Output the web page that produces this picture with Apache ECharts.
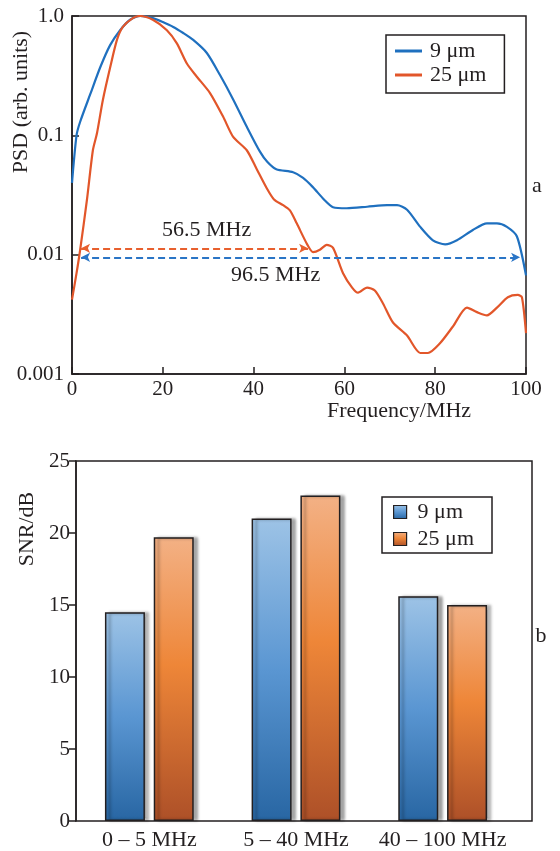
<!DOCTYPE html>
<html><head><meta charset="utf-8">
<script src="https://cdn.jsdelivr.net/npm/echarts@6/dist/echarts.min.js"></script>
<style>html,body{margin:0;padding:0;background:#fff}#c{width:560px;height:851px}</style>
</head><body><div id="c"></div>
<script>
// ---------- data ----------
const seriesNames = ['9 μm', '25 μm'];
const freq9 = [0, 1.0, 1.8, 4, 6.2, 8.4, 10.6, 12.8, 15, 17.8, 20, 22.3, 24.5, 26.7, 29.7, 32.6, 35.5, 38.5, 41.4, 43, 45, 48.7, 50.9, 53, 55.5, 57.5, 60.5, 65, 69.4, 71.6, 73.8, 76.7, 79.5, 82.2, 84.8, 88.3, 91.4, 93.6, 95.8, 98, 100];
const psd9 = [0.040, 0.10, 0.13, 0.22, 0.37, 0.57, 0.76, 0.93, 1.0, 0.96, 0.89, 0.81, 0.72, 0.63, 0.49, 0.32, 0.20, 0.118, 0.073, 0.060, 0.052, 0.049, 0.044, 0.037, 0.029, 0.025, 0.0245, 0.0252, 0.026, 0.026, 0.0238, 0.0171, 0.0132, 0.0122, 0.0132, 0.0161, 0.0183, 0.0183, 0.0171, 0.0142, 0.0067];
const freq25 = [0, 1.0, 1.8, 3.3, 4.6, 5.5, 6.8, 8.4, 9.9, 11.2, 13.4, 15, 17.8, 20.9, 23.1, 25.3, 27.5, 30.4, 33.3, 35.5, 38.5, 40.7, 42.9, 44.5, 46.5, 48, 49.5, 51.8, 53.1, 54.6, 56.1, 57.5, 59.7, 61.7, 63, 65, 66.7, 68.5, 70.7, 73.8, 76.7, 78.4, 81, 83.9, 87, 89.2, 91.4, 93.6, 96, 98.2, 99.1, 100];
const psd25 = [0.0042, 0.007, 0.011, 0.029, 0.075, 0.104, 0.198, 0.37, 0.63, 0.81, 0.96, 1.0, 0.93, 0.76, 0.59, 0.40, 0.31, 0.226, 0.143, 0.097, 0.075, 0.052, 0.036, 0.029, 0.026, 0.0235, 0.0183, 0.0122, 0.0105, 0.011, 0.0121, 0.0114, 0.007, 0.0053, 0.0048, 0.0053, 0.005, 0.0039, 0.0027, 0.0021, 0.0015, 0.0015, 0.0018, 0.0025, 0.0036, 0.0033, 0.0031, 0.0036, 0.0044, 0.0046, 0.0044, 0.0022];
const psdTickLabels = { '0': '1.0', '-1': '0.1', '-2': '0.01', '-3': '0.001' };
// bandwidth arrows: [9 μm, 25 μm]
const arrowLevels = [0.0095, 0.0113];
const arrowFrom = [2, 2];
const arrowTo = [98.7, 52];
const arrowLabels = ['96.5 MHz', '56.5 MHz'];
// SNR bars
const bandCategories = ['0 – 5 MHz', '5 – 40 MHz', '40 – 100 MHz'];
const snr9 = [14.5, 21.0, 15.6];
const snr25 = [19.7, 22.6, 15.0];

// ---------- styling ----------
const FONT = '"Liberation Serif","Times New Roman",serif';
const TXT = '#231f20';
const BLUE = '#1f70bf', ORANGE = '#e2562a';
const TICK_FS = 21, TEXT_FS = 22;
const axisLineStyle = { color: TXT, width: 1.5 };
const zip = (a, b) => a.map((v, i) => [v, b[i]]);

const gradBlue = new echarts.graphic.LinearGradient(0, 0, 0, 1, [
  { offset: 0, color: '#9dc3e6' }, { offset: 0.5, color: '#5a96d2' }, { offset: 1, color: '#2866a3' }]);
const gradOrange = new echarts.graphic.LinearGradient(0, 0, 0, 1, [
  { offset: 0, color: '#f3b185' }, { offset: 0.45, color: '#ee8638' }, { offset: 1, color: '#ad5028' }]);

function arrowLine(i, color, pos, offset) {
  return {
    silent: true, symbol: ['arrow', 'arrow'], symbolSize: [7, 9],
    lineStyle: { color: color, type: [7, 4], width: 2 },
    label: { show: true, formatter: arrowLabels[i], position: pos, color: TXT, fontSize: TEXT_FS, fontFamily: FONT, distance: 7, offset: offset },
    data: [[{ coord: [arrowFrom[i], arrowLevels[i]] }, { coord: [arrowTo[i], arrowLevels[i]] }]]
  };
}

const option = {
  animation: false,
  textStyle: { fontFamily: FONT, color: TXT },
  grid: [
    { left: 72, right: 34, top: 16, bottom: 477, show: true, borderColor: TXT, borderWidth: 1.5 },
    { left: 76, right: 28, top: 461, bottom: 30, show: true, borderColor: TXT, borderWidth: 1.5 },
    { left: 76, width: 440, top: 461, bottom: 30 }
  ],
  xAxis: [
    { gridIndex: 0, type: 'value', min: 0, max: 100, interval: 20,
      axisLine: { lineStyle: axisLineStyle }, axisTick: { inside: true, length: 7, lineStyle: axisLineStyle },
      axisLabel: { fontSize: TICK_FS, color: TXT, margin: 5, fontFamily: FONT }, splitLine: { show: false } },
    { gridIndex: 1, type: 'value', min: 0, max: 1, show: false },
    { gridIndex: 2, type: 'category', data: bandCategories,
      axisLine: { show: false }, axisTick: { show: false },
      axisLabel: { interval: 0, hideOverlap: false, fontSize: TEXT_FS, color: TXT, margin: 8, fontFamily: FONT } }
  ],
  yAxis: [
    { gridIndex: 0, type: 'log', logBase: 10, min: 0.001, max: 1,
      axisLine: { lineStyle: axisLineStyle }, axisTick: { inside: true, length: 7, lineStyle: axisLineStyle },
      minorTick: { show: false }, splitLine: { show: false },
      axisLabel: { fontSize: TICK_FS, color: TXT, margin: 8, fontFamily: FONT,
        formatter: v => psdTickLabels[String(Math.round(Math.log10(v)))] || '' } },
    { gridIndex: 1, type: 'value', min: 0, max: 25, interval: 5,
      axisLine: { lineStyle: axisLineStyle }, axisTick: { inside: false, length: 7, lineStyle: axisLineStyle },
      splitLine: { show: false },
      axisLabel: { fontSize: TICK_FS, color: TXT, margin: 6, fontFamily: FONT } },
    { gridIndex: 2, type: 'value', min: 0, max: 25, interval: 5, show: false }
  ],
  legend: [
    { data: [{ name: seriesNames[0], icon: 'rect' }, { name: seriesNames[1], icon: 'rect' }],
      orient: 'vertical', left: 386, top: 35, itemWidth: 27, itemHeight: 3, itemGap: 2,
      padding: [5, 18, 7, 9], borderColor: TXT, borderWidth: 1.5, selectedMode: false,
      textStyle: { fontSize: TEXT_FS, lineHeight: 22, color: TXT, fontFamily: FONT, padding: [0, 0, 0, 3] } },
    { data: [{ name: 'b9', icon: 'rect' }, { name: 'b25', icon: 'rect' }],
      formatter: n => n === 'b9' ? seriesNames[0] : seriesNames[1],
      orient: 'vertical', left: 382, top: 497, itemWidth: 13, itemHeight: 13, itemGap: 5,
      padding: [4, 18, 3, 11], borderColor: TXT, borderWidth: 1.5, selectedMode: false,
      itemStyle: { shadowBlur: 0, shadowOffsetX: 0, borderColor: TXT, borderWidth: 1.2 },
      textStyle: { fontSize: TEXT_FS, lineHeight: 22, color: TXT, fontFamily: FONT, padding: [0, 0, 0, 6] } }
  ],
  series: [
    { name: seriesNames[0], type: 'line', xAxisIndex: 0, yAxisIndex: 0, data: zip(freq9, psd9),
      symbol: 'none', smooth: 0.25, color: BLUE, lineStyle: { color: BLUE, width: 2.2 },
      markLine: arrowLine(0, '#2a75c6', 'insideMiddleBottom', [-25, 0]) },
    { name: seriesNames[1], type: 'line', xAxisIndex: 0, yAxisIndex: 0, data: zip(freq25, psd25),
      symbol: 'none', smooth: 0.25, color: ORANGE, lineStyle: { color: ORANGE, width: 2.2 },
      markLine: arrowLine(1, '#e8602e', 'insideMiddleTop', [12, 0]) },
    { name: 'b9', type: 'bar', xAxisIndex: 2, yAxisIndex: 2, data: snr9, barWidth: 40, barGap: '22%',
      itemStyle: { color: gradBlue, borderColor: TXT, borderWidth: 1.5,
        shadowColor: 'rgba(0,0,0,0.35)', shadowBlur: 3, shadowOffsetX: 4, shadowOffsetY: 0 } },
    { name: 'b25', type: 'bar', xAxisIndex: 2, yAxisIndex: 2, data: snr25, barWidth: 40,
      itemStyle: { color: gradOrange, borderColor: TXT, borderWidth: 1.5,
        shadowColor: 'rgba(0,0,0,0.35)', shadowBlur: 3, shadowOffsetX: 4, shadowOffsetY: 0 } }
  ],
  graphic: [
    { type: 'text', x: 21, y: 102, rotation: Math.PI / 2,
      style: { text: 'PSD (arb. units)', font: TEXT_FS + 'px ' + FONT, fill: TXT, align: 'center', verticalAlign: 'middle' } },
    { type: 'text', x: 399, y: 411,
      style: { text: 'Frequency/MHz', font: TEXT_FS + 'px ' + FONT, fill: TXT, align: 'center', verticalAlign: 'middle' } },
    { type: 'text', x: 27, y: 529, rotation: Math.PI / 2,
      style: { text: 'SNR/dB', font: TEXT_FS + 'px ' + FONT, fill: TXT, align: 'center', verticalAlign: 'middle' } },
    { type: 'text', x: 537, y: 186,
      style: { text: 'a', font: TEXT_FS + 'px ' + FONT, fill: TXT, align: 'center', verticalAlign: 'middle' } },
    { type: 'text', x: 541, y: 636,
      style: { text: 'b', font: TEXT_FS + 'px ' + FONT, fill: TXT, align: 'center', verticalAlign: 'middle' } }
  ]
};
const chart = echarts.init(document.getElementById('c'), null, { renderer: 'canvas' });
chart.setOption(option);
</script>
</body></html>
